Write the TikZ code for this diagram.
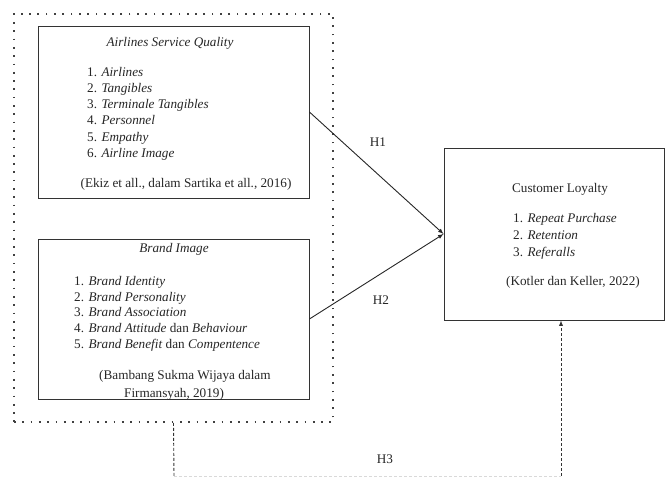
\documentclass[tikz,border=0pt]{standalone}
\usepackage{fontspec}
\setmainfont{Liberation Serif}
\usetikzlibrary{arrows,positioning,shapes}
\tikzstyle{konsep}=[
	rectangle,
	draw=black!80,
	line width=0.9pt]
\tikzstyle{teks}=[
	inner sep=0,
	font=\fontsize{13.2}{16.2}\selectfont,
	text=black!85]
\tikzstyle{daftar}=[
	teks,
	align=left,
	anchor=north west]
\tikzstyle{titik}=[
	draw=black!75,
	line width=1.7pt,
	dash pattern=on 1.7pt off 6.6pt]
\tikzstyle{garis}=[
	draw=black!85,
	line width=0.9pt]
\tikzstyle{putus}=[
	draw=black!80,
	line width=0.9pt,
	dash pattern=on 3pt off 2pt]

\begin{document}
\begin{tikzpicture}[x=1pt,y=-1pt,>=latex]
		\useasboundingbox (0,0) rectangle (665,478);
		\node[titik,minimum width=319,minimum height=408] (grup) at (173.5,218){};
		\node[konsep,minimum width=271,minimum height=172] (asq) at (173.5,112){};
		\node[teks] (asqjudul) at (170,43){\textit{Airlines Service Quality}};
		\node[daftar] (asqdaftar) at (87,67){1. \textit{Airlines}\\2. \textit{Tangibles}\\3. \textit{Terminale Tangibles}\\4. \textit{Personnel}\\5. \textit{Empathy}\\6. \textit{Airline Image}};
		\node[teks] (asqsumber) at (186,184){(Ekiz et all., dalam Sartika et all., 2016)};
		\node[konsep,minimum width=271,minimum height=160] (bi) at (173.5,319){};
		\node[teks] (bijudul) at (174,249){\textit{Brand Image}};
		\node[daftar,font=\fontsize{13.2}{15.8}\selectfont] (bidaftar) at (74,276){1. \textit{Brand Identity}\\2. \textit{Brand Personality}\\3. \textit{Brand Association}\\4. \textit{Brand Attitude} dan \textit{Behaviour}\\5. \textit{Brand Benefit} dan \textit{Compentence}};
		\node[daftar,font=\fontsize{13.2}{18}\selectfont] (bisumber) at (99,370){(Bambang Sukma Wijaya dalam\\\hspace*{25pt}Firmansyah, 2019)};
		\node[konsep,minimum width=220,minimum height=172] (cl) at (554,234){};
		\node[teks] (cljudul) at (560,189){Customer Loyalty};
		\node[daftar,font=\fontsize{13.2}{17}\selectfont] (cldaftar) at (513,213){1. \textit{Repeat Purchase}\\2. \textit{Retention}\\3. \textit{Referalls}};
		\node[teks] (clsumber) at (573,282){(Kotler dan Keller, 2022)};
		\draw[garis,->] (asq.east) -- (cl.west);
		\draw[garis,->] (bi.east) -- (cl.west);
		\node[teks] (h1) at (378,142){H1};
		\node[teks] (h2) at (381,300){H2};
		\coordinate (h3a) at (174,476);
		\coordinate (h3b) at (561,476);
		\draw[putus] (grup.south) -- (h3a);
		\draw[putus,draw=black!15] (h3a) -- (h3b);
		\draw[putus,->] (h3b) -- (h3b |- cl.south);
		\node[teks] (h3) at (385,459){H3};
	\end{tikzpicture}
\end{document}
